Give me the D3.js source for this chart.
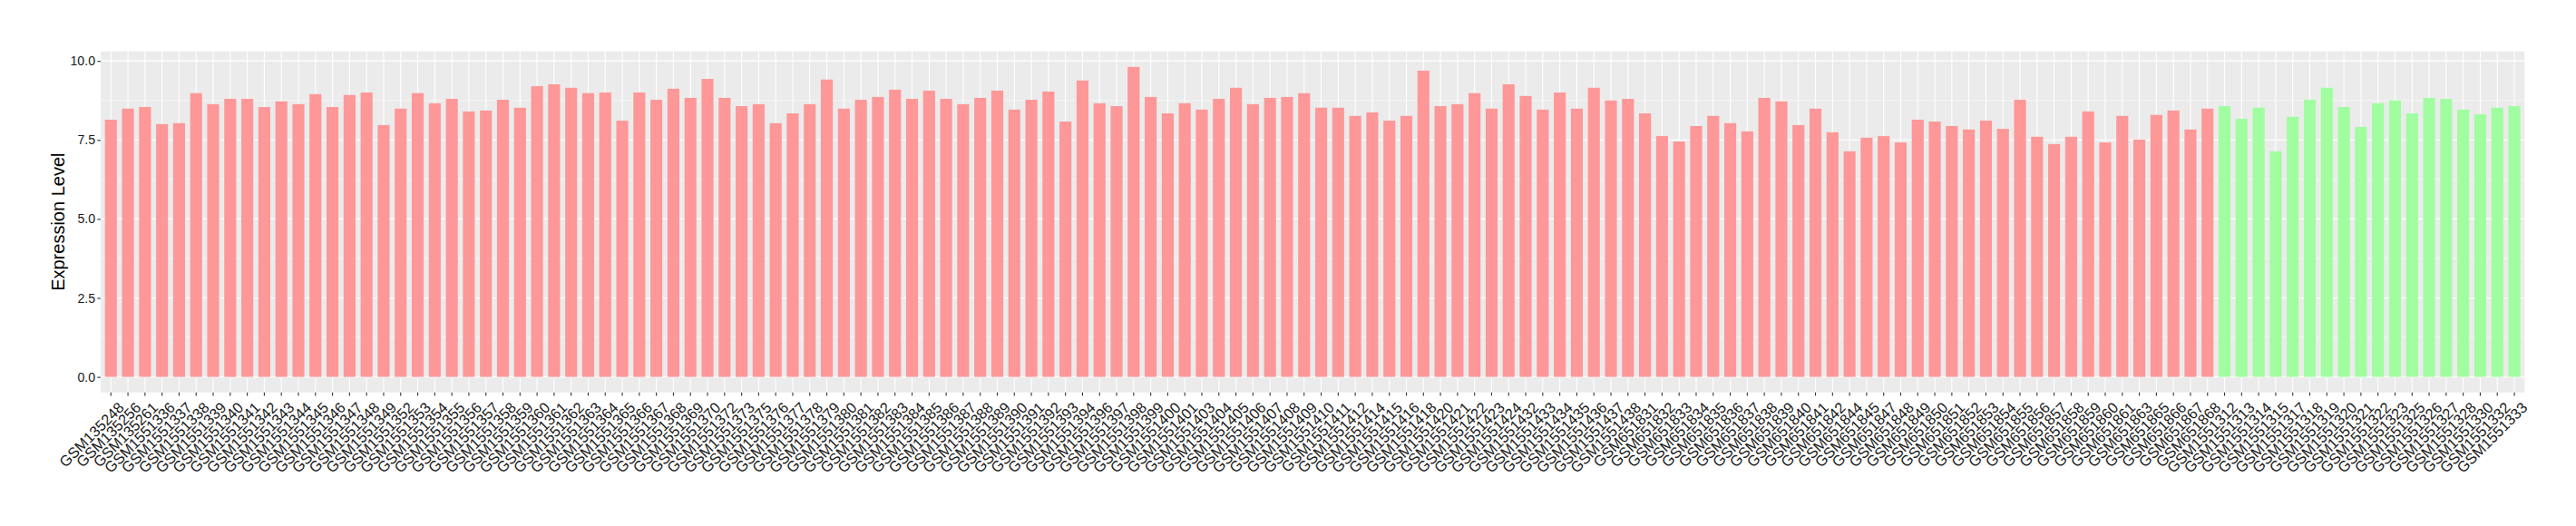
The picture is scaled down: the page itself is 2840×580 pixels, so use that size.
<!DOCTYPE html>
<html><head><meta charset="utf-8">
<script src="https://cdn.jsdelivr.net/npm/d3@7"></script>
<style>html,body{margin:0;padding:0;background:#fff}svg{display:block}</style>
</head><body>
<svg id="chart" width="2840" height="580"></svg>
<script>
const categories = [
"GSM135248","GSM135256","GSM135261",
"GSM1551336","GSM1551337","GSM1551338","GSM1551339","GSM1551340","GSM1551341","GSM1551342","GSM1551343","GSM1551344","GSM1551345","GSM1551346","GSM1551347","GSM1551348","GSM1551349",
"GSM1551352","GSM1551353","GSM1551354","GSM1551355","GSM1551356","GSM1551357","GSM1551358","GSM1551359","GSM1551360","GSM1551361","GSM1551362","GSM1551363","GSM1551364","GSM1551365","GSM1551366","GSM1551367","GSM1551368","GSM1551369","GSM1551370",
"GSM1551372","GSM1551373","GSM1551375","GSM1551376","GSM1551377","GSM1551378","GSM1551379","GSM1551380","GSM1551381","GSM1551382","GSM1551383","GSM1551384","GSM1551385","GSM1551386","GSM1551387","GSM1551388","GSM1551389","GSM1551390","GSM1551391","GSM1551392","GSM1551393","GSM1551394",
"GSM1551396","GSM1551397","GSM1551398","GSM1551399","GSM1551400","GSM1551401","GSM1551403","GSM1551404","GSM1551405","GSM1551406","GSM1551407","GSM1551408","GSM1551409","GSM1551410","GSM1551411","GSM1551412",
"GSM1551414","GSM1551415","GSM1551416","GSM1551418","GSM1551420","GSM1551421","GSM1551422","GSM1551423","GSM1551424","GSM1551432","GSM1551433","GSM1551434","GSM1551435","GSM1551436","GSM1551437","GSM1551438",
"GSM651831","GSM651832","GSM651833","GSM651834","GSM651835","GSM651836","GSM651837","GSM651838","GSM651839","GSM651840","GSM651841","GSM651842","GSM651844","GSM651845","GSM651847","GSM651848","GSM651849","GSM651850","GSM651851","GSM651852","GSM651853","GSM651854","GSM651855","GSM651856","GSM651857","GSM651858","GSM651859","GSM651860","GSM651861","GSM651863","GSM651865","GSM651866","GSM651867","GSM651868",
"GSM1551312","GSM1551313","GSM1551314","GSM1551315","GSM1551317","GSM1551318","GSM1551319","GSM1551320","GSM1551321","GSM1551322","GSM1551323","GSM1551325","GSM1551326","GSM1551327","GSM1551328","GSM1551330","GSM1551332","GSM1551333"
];
const values = [
8.14,8.49,8.54,8.00,8.03,8.98,8.63,8.80,8.80,8.54,
8.72,8.63,8.95,8.54,8.92,9.00,7.97,8.49,8.98,8.66,
8.80,8.40,8.43,8.77,8.52,9.20,9.26,9.15,8.98,9.00,
8.11,9.00,8.77,9.12,8.83,9.43,8.83,8.57,8.63,8.03,
8.34,8.63,9.41,8.49,8.77,8.86,9.09,8.80,9.06,8.80,
8.63,8.83,9.06,8.46,8.77,9.03,8.08,9.38,8.66,8.57,
9.81,8.86,8.34,8.66,8.46,8.80,9.15,8.63,8.83,8.86,
8.98,8.52,8.52,8.26,8.37,8.11,8.26,9.69,8.57,8.63,
8.98,8.49,9.26,8.89,8.46,9.00,8.49,9.15,8.75,8.80,
8.34,7.62,7.45,7.94,8.26,8.03,7.77,8.83,8.72,7.97,
8.49,7.74,7.14,7.57,7.62,7.42,8.14,8.08,7.94,7.83,
8.11,7.85,8.77,7.60,7.37,7.60,8.40,7.42,8.26,7.51,
8.29,8.43,7.83,8.49,
8.57,8.17,8.52,7.14,8.23,8.77,9.15,8.54,7.91,8.66,
8.75,8.34,8.83,8.80,8.46,8.31,8.52,8.57
];
const groups = [
"G1","G1","G1","G1","G1","G1","G1","G1","G1","G1","G1","G1","G1","G1","G1","G1","G1","G1","G1","G1",
"G1","G1","G1","G1","G1","G1","G1","G1","G1","G1","G1","G1","G1","G1","G1","G1","G1","G1","G1","G1",
"G1","G1","G1","G1","G1","G1","G1","G1","G1","G1","G1","G1","G1","G1","G1","G1","G1","G1","G1","G1",
"G1","G1","G1","G1","G1","G1","G1","G1","G1","G1","G1","G1","G1","G1","G1","G1","G1","G1","G1","G1",
"G1","G1","G1","G1","G1","G1","G1","G1","G1","G1","G1","G1","G1","G1","G1","G1","G1","G1","G1","G1",
"G1","G1","G1","G1","G1","G1","G1","G1","G1","G1","G1","G1","G1","G1","G1","G1","G1","G1","G1","G1",
"G1","G1","G1","G1",
"G2","G2","G2","G2","G2","G2","G2","G2","G2","G2","G2","G2","G2","G2","G2","G2","G2","G2"
];
const groupNames = ["G1","G2"];
const groupColors = ["#FE9797","#A0FDA0"];
const yTicks = [0, 2.5, 5, 7.5, 10];
const yMinor = [1.25, 3.75, 6.25, 8.75];
const yTitle = "Expression Level";

const data = categories.map((c,i)=>({cat:c, val:values[i], grp:groups[i]}));
const svg = d3.select("#chart");
const P = {left:111, right:2783.3, top:56.7, bottom:432.7};
const FONT = "'Liberation Sans', Arial, Helvetica, sans-serif";

const x = d3.scaleBand().domain(categories).range([P.left, P.right]).paddingInner(0.3).paddingOuter(0.25).align(0.5);
const ymax = d3.max(values);
const y = d3.scaleLinear().domain([-0.05*ymax, 1.05*ymax]).range([P.bottom, P.top]);
const color = d3.scaleOrdinal().domain(groupNames).range(groupColors);

svg.append("rect").attr("x",P.left).attr("y",P.top).attr("width",P.right-P.left).attr("height",P.bottom-P.top).attr("fill","#EBEBEB");

svg.append("g").selectAll("line").data(yMinor).join("line")
  .attr("x1",P.left).attr("x2",P.right).attr("y1",d=>y(d)).attr("y2",d=>y(d))
  .attr("stroke","#fff").attr("stroke-width",0.55);
svg.append("g").selectAll("line").data(yTicks).join("line")
  .attr("x1",P.left).attr("x2",P.right).attr("y1",d=>y(d)).attr("y2",d=>y(d))
  .attr("stroke","#fff").attr("stroke-width",1.1);
svg.append("g").selectAll("line").data(categories).join("line")
  .attr("x1",d=>x(d)+x.bandwidth()/2).attr("x2",d=>x(d)+x.bandwidth()/2)
  .attr("y1",P.top).attr("y2",P.bottom)
  .attr("stroke","#fff").attr("stroke-width",1.1);

svg.append("g").selectAll("rect").data(data).join("rect")
  .attr("x",d=>x(d.cat)).attr("width",x.bandwidth())
  .attr("y",d=>y(d.val)).attr("height",d=>y(0)-y(d.val))
  .attr("fill",d=>color(d.grp));

const yAxis = svg.append("g").attr("transform",`translate(${P.left},0)`)
  .call(d3.axisLeft(y).tickValues(yTicks).tickFormat(d3.format(".1f")).tickSize(3.7).tickPadding(2.2));
yAxis.select(".domain").remove();
yAxis.selectAll(".tick line").attr("stroke","#333").attr("stroke-width",1.1);
yAxis.selectAll(".tick text").attr("fill","#1a1a1a").style("font-family",FONT).style("font-size","14.2px");

const xAxis = svg.append("g").attr("transform",`translate(0,${P.bottom})`)
  .call(d3.axisBottom(x).tickSize(3.7).tickPadding(0));
xAxis.select(".domain").remove();
xAxis.selectAll(".tick line").attr("stroke","#333").attr("stroke-width",1.1);
xAxis.selectAll(".tick text")
  .attr("fill","#1a1a1a").style("font-family",FONT).style("font-size","16.5px")
  .attr("text-anchor","end").attr("y",0).attr("dy","0.72em")
  .attr("transform","translate(7,9.5) rotate(-45)");

svg.append("text").attr("transform",`translate(71,${(P.top+P.bottom)/2}) rotate(-90)`)
  .attr("text-anchor","middle").style("font-family",FONT).style("font-size","20px").attr("fill","#000")
  .text(yTitle);
</script>
</body></html>
